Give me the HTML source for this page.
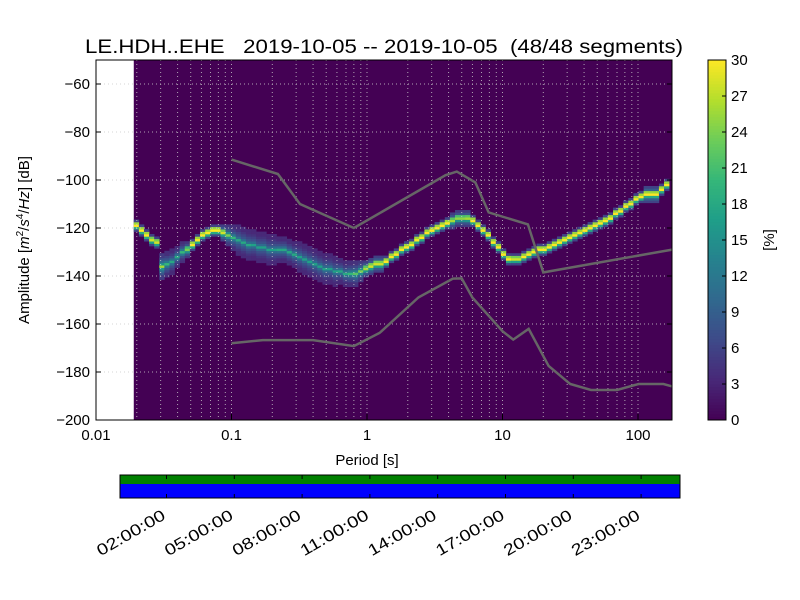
<!DOCTYPE html>
<html><head><meta charset="utf-8"><style>
body{margin:0;background:#fff}
svg{display:block;font-family:"Liberation Sans","DejaVu Sans",sans-serif}
</style></head><body>
<svg id="s" width="800" height="600" viewBox="0 0 800 600">
<rect width="800" height="600" fill="#fff"/>
<text x="85" y="53" font-size="19" textLength="598" lengthAdjust="spacingAndGlyphs" style="white-space:pre">LE.HDH..EHE   2019-10-05 -- 2019-10-05  (48/48 segments)</text>
<g id="plot"></g>
<g id="cbar"></g>
<g id="tl"></g>
<text x="367" y="465" font-size="15" text-anchor="middle">Period [s]</text>
<text transform="translate(29,240) rotate(-90)" font-size="15" text-anchor="middle">Amplitude [<tspan font-style="italic">m</tspan><tspan font-size="10" dy="-6">2</tspan><tspan dy="6">/</tspan><tspan font-style="italic">s</tspan><tspan font-size="10" dy="-6">4</tspan><tspan dy="6">/</tspan><tspan font-style="italic">Hz</tspan>] [dB]</text>
<text transform="translate(774,240) rotate(-90)" font-size="15" text-anchor="middle">[%]</text>
</svg>
<script>
const yTicks=[-60,-80,-100,-120,-140,-160,-180,-200];
const xTickLabels=["0.01","0.1","1","10","100"];
const cbTicks=[0,3,6,9,12,15,18,21,24,27,30];
const timeLabels=["02:00:00","05:00:00","08:00:00","11:00:00","14:00:00","17:00:00","20:00:00","23:00:00"];
const timeHours=[2,5,8,11,14,17,20,23];
const modeDb=[-119,-121,-123,-125,-126,-136,-135,-134,-132,-130,-129,-127,-125,-123,-122,-121,-121,-122,-123,-124,-125,-126,-127,-127,-128,-128,-129,-129,-129,-129,-130,-131,-132,-133,-134,-135,-136,-137,-137,-138,-138,-139,-139,-139,-138,-137,-136,-135,-135,-134,-132,-131,-129,-128,-127,-125,-124,-122,-121,-120,-119,-118,-117,-116,-116,-116,-117,-119,-121,-123,-126,-128,-131,-133,-133,-133,-132,-131,-130,-129,-129,-128,-127,-126,-125,-124,-123,-122,-121,-120,-119,-118,-117,-116,-114,-113,-111,-110,-108,-107,-106,-106,-106,-104,-102];
const spreadDb=[2,2,2,2,2,5,5,5,4,4,3,2,2,2,2,2,2,3,4,5,6,6,6,6,6,6,6,6,5,5,5,5,6,6,6,6,6,6,6,6,5,5,5,5,4,3,3,3,3,2,2,2,2,2,2,2,2,2,2,2,2,2,3,3,3,3,2,2,2,2,2,2,2,2,2,2,2,2,2,2,2,2,2,2,2,2,2,2,2,2,2,2,2,2,2,2,2,2,2,2,3,3,3,2,2];
const peakPct=[30,30,30,28,28,26,20,18,18,20,24,30,30,30,30,30,30,28,24,20,18,18,18,17,17,17,17,17,18,18,18,18,17,17,17,17,17,17,17,17,18,18,20,22,24,26,28,28,28,30,30,30,30,30,30,30,30,30,30,30,30,30,26,25,25,26,30,30,30,30,30,30,30,30,28,28,30,30,30,30,30,30,30,30,30,30,30,30,30,30,30,30,30,30,30,30,30,30,30,30,30,30,30,30,30];
const firstPeriod=0.019;
const nhnmP=[0.1,0.22,0.32,0.8,3.8,4.6,6.3,7.9,15.4,20,179];
const nhnmDb=[-91.5,-97.5,-110,-120,-98,-96.5,-101,-113.5,-118.5,-138.5,-129];
const nlnmP=[0.1,0.17,0.4,0.8,1.24,2.4,4.3,5,6,10,12,15.6,21.9,31.6,45,70,101,154,179];
const nlnmDb=[-168,-166.7,-166.7,-169.2,-163.7,-148.9,-141.1,-141,-149,-163,-166.5,-162,-177.5,-185,-187.5,-187.5,-185,-185,-186];

const NS="http://www.w3.org/2000/svg";
function mk(t,a,p){const e=document.createElementNS(NS,t);for(const k in a)e.setAttribute(k,a[k]);p.appendChild(e);return e;}
const L=96,R=672,T=60,B=420,DEC=135.5;
const xs=p=>L+DEC*Math.log10(p/0.01);
const ys=d=>B-(d+200)*(B-T)/150;
const vir=[[68,1,84],[72,40,120],[62,74,137],[49,104,142],[38,130,142],[31,158,137],[53,183,121],[109,205,89],[180,222,44],[253,231,37]];
function cmap(v){v=Math.max(0,Math.min(1,v))*(vir.length-1);const i=Math.min(Math.floor(v),vir.length-2),f=v-i;const c=vir[i].map((x,k)=>Math.round(x+(vir[i+1][k]-x)*f));return `rgb(${c})`;}
const P=document.getElementById('plot');
const bg=mk('rect',{x:xs(firstPeriod),y:T,width:R-xs(firstPeriod),height:B-T,fill:cmap(0)},P);


const step=Math.pow(2,1/8);
const cells=mk('g',{},P);


for(let i=0;i<modeDb.length;i++){
  const p0=firstPeriod*Math.pow(step,i),x0=xs(p0),x1=Math.min(R,xs(p0*step));
  const sp=spreadDb[i];
  for(let d=-sp;d<=sp;d++){
    const a=Math.abs(d);
    let frac;
    if(d===0)frac=1;
    else if(d===1&&sp<=3)frac=0.85;
    else if(a===1)frac=0.6;
    else frac=Math.max(0.2,(1-a/(sp+1))*0.6);
    const db=modeDb[i]+d;
    const r=mk('rect',{x:x0,y:ys(db+0.5),width:x1-x0+0.3,height:(B-T)/150+0.3,fill:cmap(peakPct[i]*frac/30)},cells);
    
    
  }
}
const g=mk('g',{stroke:'#ccc','stroke-width':1,'stroke-dasharray':'1,3',opacity:0.8},P);


for(let e=-2;e<=2;e++)for(let m=1;m<10;m++){const x=xs(m*Math.pow(10,e));if(x>L&&x<R)mk('line',{x1:x,x2:x,y1:T,y2:B},g);}
yTicks.forEach(v=>{const y=ys(v);mk('line',{x1:L,x2:R,y1:y,y2:y},g);});
function poly(pp,dd,name){const pl=mk('polyline',{points:pp.map((p,i)=>xs(p)+','+ys(dd[i])).join(' '),fill:'none',stroke:'#666','stroke-width':2.5},P);}
poly(nhnmP,nhnmDb,'nhnm-line');
poly(nlnmP,nlnmDb,'nlnm-line');
mk('rect',{x:L,y:T,width:R-L,height:B-T,fill:'none',stroke:'#000','stroke-width':1},P);
yTicks.forEach(v=>{const y=ys(v);mk('line',{x1:L,x2:L+5,y1:y,y2:y,stroke:'#000'},P);mk('line',{x1:R,x2:R-5,y1:y,y2:y,stroke:'#000'},P);
 const t=mk('text',{x:L-6,y:y+5,'font-size':15,'text-anchor':'end'},P);t.textContent=String(v).replace('-','\u2212');
 });
xTickLabels.forEach(s=>{const x=xs(parseFloat(s));mk('line',{x1:x,x2:x,y1:B,y2:B-6,stroke:'#000'},P);
 const t=mk('text',{x:x,y:B+20,'font-size':15,'text-anchor':'middle'},P);t.textContent=s;
 });
const C=document.getElementById('cbar');const cx=708,cw=18;
for(let k=0;k<120;k++){mk('rect',{x:cx,y:B-(k+1)*3,width:cw,height:3.3,fill:cmap((k+0.5)/120)},C);}
mk('rect',{x:cx,y:T,width:cw,height:B-T,fill:'none',stroke:'#000'},C);
cbTicks.forEach(v=>{const y=B-v/30*(B-T);mk('line',{x1:cx+cw-4,x2:cx+cw,y1:y,y2:y,stroke:'#000'},C);
 const t=mk('text',{x:cx+cw+5,y:y+5,'font-size':15},C);t.textContent=v;
 });
const TL=document.getElementById('tl');const tx0=121.3,ph=22.6;
mk('rect',{x:120,y:475,width:560,height:9,fill:'#008000'},TL);
mk('rect',{x:120,y:484,width:560,height:14,fill:'#0000ff'},TL);
mk('rect',{x:120,y:475,width:560,height:23,fill:'none',stroke:'#000'},TL);
timeHours.forEach((h,i)=>{const x=tx0+h*ph;mk('line',{x1:x,x2:x,y1:475,y2:479,stroke:'#000'},TL);mk('line',{x1:x,x2:x,y1:494,y2:498,stroke:'#000'},TL);
 const t=mk('text',{transform:`translate(${x-6},${508}) rotate(-30)`,'font-size':16,'text-anchor':'end',dy:'0.75em',textLength:76,lengthAdjust:'spacingAndGlyphs'},TL);t.textContent=timeLabels[i];
 });
</script>
</body></html>
